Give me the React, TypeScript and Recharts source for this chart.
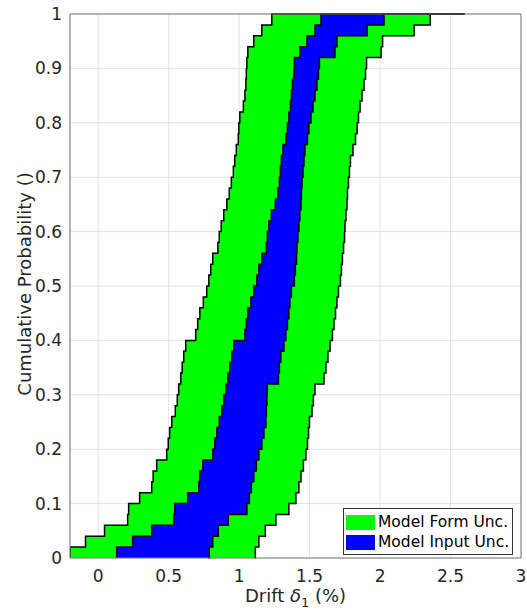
import {
  Area,
  CartesianGrid,
  ComposedChart,
  Legend,
  ReferenceLine,
  XAxis,
  YAxis,
} from "recharts";

// probability levels of the empirical CDFs (last row repeats 1 for the top line)
const probLevels = [
  0, 0.02, 0.04, 0.06, 0.08, 0.1, 0.12, 0.14, 0.16, 0.18, 0.2, 0.22, 0.24, 0.26, 0.28, 0.3, 0.32,
  0.34, 0.36, 0.38, 0.4, 0.42, 0.44, 0.46, 0.48, 0.5, 0.52, 0.54, 0.56, 0.58, 0.6, 0.62, 0.64, 0.66,
  0.68, 0.7, 0.72, 0.74, 0.76, 0.78, 0.8, 0.82, 0.84, 0.86, 0.88, 0.9, 0.92, 0.94, 0.96, 0.98, 1, 1,
];

// drift (%) at which each bound reaches the level above
const formLower = [
  -0.2, -0.2, -0.09, 0.045, 0.209, 0.216, 0.294, 0.38, 0.39, 0.415, 0.486, 0.497, 0.507, 0.522,
  0.547, 0.561, 0.571, 0.586, 0.596, 0.607, 0.621, 0.692, 0.706, 0.721, 0.746, 0.77, 0.785, 0.799,
  0.813, 0.849, 0.859, 0.873, 0.891, 0.913, 0.93, 0.945, 0.959, 0.969, 0.98, 0.994, 0.998, 1.005,
  1.03, 1.041, 1.048, 1.051, 1.055, 1.062, 1.104, 1.161, 1.232, 2.6,
];
const inputLower = [
  0.131, 0.131, 0.244, 0.38, 0.536, 0.543, 0.635, 0.714, 0.721, 0.742, 0.813, 0.827, 0.842, 0.859,
  0.877, 0.891, 0.906, 0.92, 0.934, 0.948, 0.962, 1.041, 1.051, 1.062, 1.083, 1.104, 1.126, 1.14,
  1.161, 1.193, 1.2, 1.211, 1.229, 1.257, 1.275, 1.286, 1.293, 1.3, 1.311, 1.332, 1.343, 1.353,
  1.364, 1.371, 1.378, 1.389, 1.392, 1.431, 1.481, 1.538, 1.581, 2.6,
];
const inputUpper = [
  0.781, 0.788, 0.813, 0.852, 0.923, 1.055, 1.073, 1.087, 1.104, 1.122, 1.14, 1.161, 1.176, 1.19,
  1.193, 1.197, 1.2, 1.279, 1.286, 1.296, 1.318, 1.332, 1.343, 1.353, 1.36, 1.371, 1.392, 1.399,
  1.407, 1.41, 1.417, 1.424, 1.431, 1.439, 1.442, 1.446, 1.453, 1.46, 1.467, 1.485, 1.495, 1.51,
  1.524, 1.538, 1.552, 1.563, 1.57, 1.68, 1.694, 1.908, 2.028, 2.6,
];
const formUpper = [
  1.112, 1.115, 1.14, 1.186, 1.261, 1.353, 1.403, 1.424, 1.439, 1.456, 1.474, 1.485, 1.492, 1.499,
  1.517, 1.527, 1.538, 1.602, 1.616, 1.63, 1.645, 1.662, 1.673, 1.684, 1.694, 1.705, 1.719, 1.726,
  1.733, 1.741, 1.748, 1.751, 1.758, 1.765, 1.769, 1.776, 1.783, 1.79, 1.808, 1.826, 1.837, 1.847,
  1.858, 1.872, 1.886, 1.897, 1.904, 2.007, 2.018, 2.242, 2.356, 2.6,
];

const xTicks = [0, 0.5, 1, 1.5, 2, 2.5, 3];
const yTicks = [0, 0.1, 0.2, 0.3, 0.4, 0.5, 0.6, 0.7, 0.8, 0.9, 1];

const FONT = "'DejaVu Sans', sans-serif";
const AXIS_GRAY = "#7a7a7a";
const TEXT = "#262626";
const bandFill: Record<string, string> = {
  "Model Form Unc.": "#00ff00",
  "Model Input Unc.": "#0000ff",
};

const data = probLevels.map((p, i) => ({
  p,
  form: [formLower[i], formUpper[i]],
  input: [inputLower[i], inputUpper[i]],
}));

function XLabel({ viewBox }: any) {
  const cx = viewBox.x + viewBox.width / 2;
  const y = viewBox.y + 43.5;
  return (
    <text x={cx} y={y} textAnchor="middle" fontSize={18} fontFamily={FONT} fill={TEXT}>
      Drift <tspan fontStyle="italic">δ</tspan>
      <tspan dy={5} fontSize={13}>1</tspan>
      <tspan dy={-5}> (%)</tspan>
    </text>
  );
}

function YLabel({ viewBox }: any) {
  const cx = viewBox.x + 31;
  const cy = viewBox.y + viewBox.height / 2 - 2;
  return (
    <text
      x={cx}
      y={cy}
      transform={`rotate(-90, ${cx}, ${cy})`}
      textAnchor="middle"
      fontSize={18}
      fontFamily={FONT}
      fill={TEXT}
    >
      Cumulative Probability ()
    </text>
  );
}

function LegendBox({ payload }: any) {
  return (
    <div
      style={{
        border: "1px solid #333",
        background: "#fff",
        padding: "3px 3px 2px 2px",
        fontFamily: FONT,
        fontSize: 15.5,
        color: "#000",
        lineHeight: "20px",
      }}
    >
      {(payload ?? []).map((entry: any) => (
        <div key={entry.value} style={{ display: "flex", alignItems: "center", height: 20 }}>
          <span
            style={{
              display: "inline-block",
              width: 29,
              height: 15,
              background: bandFill[entry.value],
              marginRight: 3,
            }}
          />
          <span>{entry.value}</span>
        </div>
      ))}
    </div>
  );
}

export default function App() {
  return (
    <div style={{ width: 527, height: 611, background: "#fff" }}>
      <style>{"body{margin:0}"}</style>
      <ComposedChart
        width={527}
        height={611}
        data={data}
        layout="vertical"
        margin={{ top: 14, right: 6, bottom: 0, left: 0 }}
      >
        <CartesianGrid stroke="#e3e3e3" />
        <XAxis
          type="number"
          domain={[-0.2, 3]}
          ticks={xTicks}
          allowDataOverflow
          height={53}
          tickLine={false}
          tickMargin={6}
          axisLine={{ stroke: AXIS_GRAY }}
          tick={{ fill: TEXT, fontSize: 17, fontFamily: FONT }}
          label={<XLabel />}
        />
        <YAxis
          type="number"
          dataKey="p"
          reversed
          domain={[0, 1]}
          ticks={yTicks}
          width={70}
          tickLine={false}
          axisLine={{ stroke: AXIS_GRAY }}
          tick={{ fill: TEXT, fontSize: 17, fontFamily: FONT }}
          label={<YLabel />}
        />
        <ReferenceLine y={1} stroke={AXIS_GRAY} />
        <ReferenceLine x={3} stroke={AXIS_GRAY} />
        <Area
          type="stepAfter"
          dataKey="form"
          name="Model Form Unc."
          fill={bandFill["Model Form Unc."]}
          fillOpacity={1}
          stroke="#000"
          strokeWidth={1.5}
          isAnimationActive={false}
        />
        <Area
          type="stepAfter"
          dataKey="input"
          name="Model Input Unc."
          fill={bandFill["Model Input Unc."]}
          fillOpacity={1}
          stroke="#000"
          strokeWidth={1.5}
          isAnimationActive={false}
        />
        <Legend
          layout="vertical"
          align="center"
          verticalAlign="middle"
          content={<LegendBox />}
          wrapperStyle={{ left: 343, top: 508, width: "auto", bottom: "auto", right: "auto" }}
        />
      </ComposedChart>
    </div>
  );
}
